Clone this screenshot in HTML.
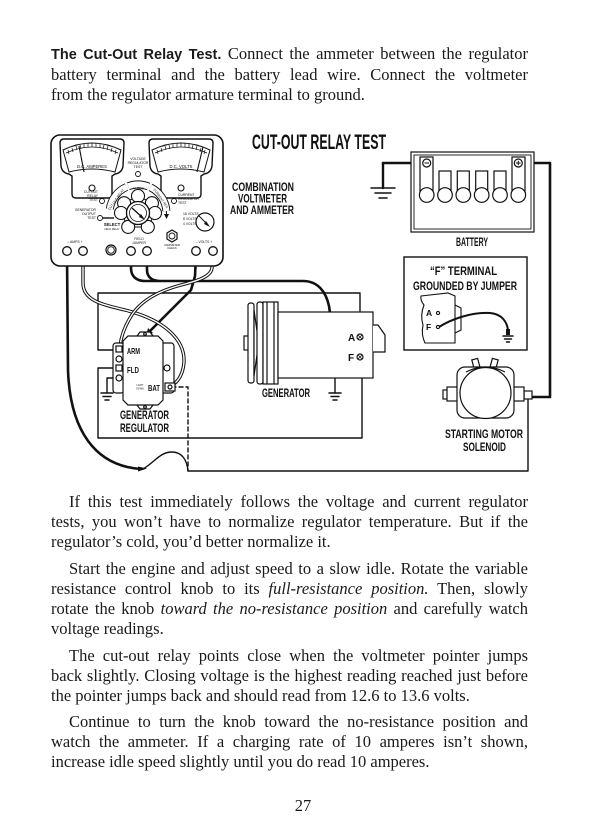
<!DOCTYPE html>
<html><head><meta charset="utf-8">
<style>
html,body{margin:0;padding:0;background:#fff;}
body{width:600px;height:840px;position:relative;overflow:hidden;}
.l{position:absolute;left:51px;width:477px;font-family:"Liberation Serif",serif;font-size:16.5px;line-height:20px;color:#1a1a1a;white-space:nowrap;}
.j{text-align:justify;text-align-last:justify;}
.i{left:69px;width:459px;}
.l b{font-family:"Liberation Sans",sans-serif;font-size:14.5px;}
svg{position:absolute;left:0;top:0;}
</style></head><body>
<svg width="600" height="840" viewBox="0 0 600 840" xmlns="http://www.w3.org/2000/svg">
<g fill="none" stroke="#111" stroke-width="1.4" stroke-linecap="round" stroke-linejoin="round">
  <!-- thin wires -->
  <path d="M117,350 L98,350 L98,293 L360,293 L360,337"/>
  <path d="M117,368 L98,368 L98,438 L362,438 L362,357"/>
  <path d="M143,469 C155,462 160,452 172,452 C182,452 187,460 188,471 L528,471 L528,397"/>
  <path d="M172,387 L188,387 L188,471" stroke-dasharray="4,3"/>
  <path d="M119,378 L107,378 L107,393"/>
  <path d="M335,355 L335,393"/>
  <path d="M383,163 L383,188" stroke-width="2.4"/>
  <!-- grounds -->
  <g stroke-width="1.5">
    <path d="M371,188 L395,188 M375,193 L391,193 M379,198 L387,198"/>
    <path d="M101,393 L113,393 M103,396.5 L111,396.5 M105,400 L109,400"/>
    <path d="M329,393 L341,393 M331,396.5 L339,396.5 M333,400 L337,400"/>
    <path d="M503,336 L513,336 M504.5,339 L511.5,339 M506.5,342 L509.5,342"/>
  </g>
  <!-- thick black wires -->
  <path d="M67,255 L68,370 C70,430 95,466 141,469" stroke-width="2.6"/>
  <path d="M196,255 L195,276 L191,290 L150,331" stroke-width="2.6"/>
  <path d="M131,255 L131,268 C131,276 136,281 145,281 M147,255 L147,270 C147,277 152,281 160,281 M145,281 L303,281 C318,281 326,292 329,306 L332,326 L335,352" stroke-width="2.6"/>
  <path d="M332,326 C340,336 350,345 358,356" stroke-width="1.6"/>
  <path d="M427,163 L383,163" stroke-width="2.6"/>
  <path d="M518,163 L550,163 L550,397 L532,397" stroke-width="2.6"/>
  <!-- double wires -->
  <path d="M83,255 L83,283 C83,300 100,304 125,310 C165,320 185,340 184,362 C183,375 178,382 171,386" stroke-width="3.4"/>
  <path d="M83,255 L83,283 C83,300 100,304 125,310 C165,320 185,340 184,362 C183,375 178,382 171,386" stroke="#fff" stroke-width="1.4"/>
  <path d="M213,255 L212,268 C211,276 200,280 185,284 C160,290 140,300 130,318 C124,328 121,338 120,346" stroke-width="3.4"/>
  <path d="M213,255 L212,268 C211,276 200,280 185,284 C160,290 140,300 130,318 C124,328 121,338 120,346" stroke="#fff" stroke-width="1.4"/>
</g>
<!-- wire tips -->
<g fill="#111">
  <path d="M138,466.5 L147,468.5 L138,471.5 Z"/>
  <path d="M146,336 L148,328 L153,333 Z"/>
  <path d="M333,351 L337,351 L336,357 L334,357 Z"/>
  <rect x="506" y="329" width="4" height="6"/>
</g>

<!-- METER PANEL -->
<g fill="#fff" stroke="#111" stroke-width="1.4">
  <rect x="51" y="135" width="172" height="131" rx="9" stroke-width="1.6"/>
  <path d="M64,139 L120,139 Q124,139 124,143 L123,166 Q122,173 115,174 L112,176 L112,194 Q112,198 108,198 L76,198 Q72,198 72,194 L72,176 L69,174 Q62,173 61,166 L60,143 Q60,139 64,139 Z"/>
  <path d="M63,150 Q92,136 121,150 L115,172 Q92,166 69,172 Z" stroke-width="1"/>
  <path d="M153,139 L209,139 Q213,139 213,143 L212,166 Q211,173 204,174 L201,176 L201,194 Q201,198 197,198 L165,198 Q161,198 161,194 L161,176 L158,174 Q151,173 150,166 L149,143 Q149,139 153,139 Z"/>
  <path d="M152,150 Q181,136 210,150 L204,172 Q181,166 158,172 Z" stroke-width="1"/>
</g>
<g fill="none" stroke="#111" stroke-width="0.7">
  <path d="M66,153 Q92,141 118,153"/>
  <path d="M155,153 Q181,141 207,153"/>
  <path d="M68,150 L69,154 M72,148 L73,152 M76,146 L77,150 M80,145 L81,149 M84,144 L84,148 M88,143 L88,147 M92,143 L92,147 M96,143 L96,147 M100,144 L100,148 M104,145 L103,149 M108,146 L107,150 M112,148 L111,152 M116,150 L115,154"/>
  <path d="M157,150 L158,154 M161,148 L162,152 M165,146 L166,150 M169,145 L170,149 M173,144 L173,148 M177,143 L177,147 M181,143 L181,147 M185,143 L185,147 M189,144 L189,148 M193,145 L192,149 M197,146 L196,150 M201,148 L200,152 M205,150 L204,154"/>
  <path d="M84,172 L79,146" stroke-width="1.1"/>
  <path d="M197,172 L203,147" stroke-width="1.1"/>
</g>
<g fill="#fff" stroke="#111" stroke-width="1.1">
  <circle cx="92" cy="188" r="3"/>
  <circle cx="181" cy="188" r="3"/>
</g>
<!-- selector -->
<g fill="none" stroke="#111">
  <path d="M109.8,209 A28.5,28.5 0 0 1 126.4,187" stroke-width="8"/>
  <path d="M128.3,186.2 A28.5,28.5 0 0 1 148.7,186.6" stroke-width="8"/>
  <path d="M150.5,187.4 A28.5,28.5 0 0 1 166.4,211" stroke-width="8"/>
  <path d="M109.8,209 A28.5,28.5 0 0 1 126.4,187" stroke="#fff" stroke-width="6.2"/>
  <path d="M128.3,186.2 A28.5,28.5 0 0 1 148.7,186.6" stroke="#fff" stroke-width="6.2"/>
  <path d="M150.5,187.4 A28.5,28.5 0 0 1 166.4,211" stroke="#fff" stroke-width="6.2"/>
  <path d="M166.4,211 L166.5,216" stroke-width="1"/>
</g>
<path d="M164,214 L169,214 L166.5,219 Z" fill="#111"/>
<g font-family="Liberation Sans, sans-serif" font-size="3.2" fill="#111" text-anchor="middle">
  <text x="117" y="200" transform="rotate(-55 117 200)">CUT-OUT RELAY</text>
  <text x="138.5" y="189.5">V. REG</text>
  <text x="160" y="199" transform="rotate(55 160 199)">CURRENT REG</text>
</g>
<g fill="#fff" stroke="#111" stroke-width="1.1">
  <path d="M138,196 L152,203 L155,213 L148,227 L128,227 L121,213 L124,203 Z" fill="none"/>
  <circle cx="138" cy="196" r="6.5"/>
  <circle cx="124.1" cy="203.2" r="6.5"/>
  <circle cx="151.9" cy="203.2" r="6.5"/>
  <circle cx="121" cy="213" r="6.5"/>
  <circle cx="155" cy="213" r="6.5"/>
  <circle cx="128.2" cy="226.9" r="6.5"/>
  <circle cx="147.8" cy="226.9" r="6.5"/>
  <circle cx="138" cy="213" r="11.5" stroke-width="1.3"/>
  <circle cx="138" cy="213" r="8.5" stroke-width="0.8"/>
</g>
<path d="M132,208 L143,218" stroke="#111" stroke-width="1.3"/>
<path d="M141,214 L145,220 L139,217 Z" fill="#111"/>
<!-- small labels + circles -->
<g fill="#fff" stroke="#111" stroke-width="0.9">
  <circle cx="138" cy="174" r="2.5"/>
  <circle cx="102" cy="201" r="2.5"/>
  <circle cx="100" cy="218" r="2.5"/>
  <circle cx="174" cy="201" r="2.5"/>
  <circle cx="205" cy="222" r="9" stroke-width="1.2"/>
  <path d="M172,230 L177,233 L177,239 L172,242 L167,239 L167,233 Z" stroke-width="1.2"/>
  <circle cx="172" cy="236" r="3"/>
  <circle cx="111" cy="250" r="5" stroke-width="1.2"/>
  <circle cx="111" cy="250" r="3.3"/>
</g>
<path d="M102.5,218 L114,218" stroke="#111" stroke-width="1.4"/>
<path d="M199,216 L208,225" stroke="#111" stroke-width="1"/>
<path d="M206,221 L210,227 L204,224 Z" fill="#111"/>
<g font-family="Liberation Sans, sans-serif" font-size="3.4" fill="#111">
  <g text-anchor="middle">
    <text x="138" y="160">VOLTAGE</text><text x="138" y="164">REGULATOR</text><text x="138" y="168">TEST</text>
    <text x="92" y="168" font-size="4.2">D.C. AMPERES</text>
    <text x="181" y="168" font-size="4.2">D.C. VOLTS</text>
    <text x="75" y="243">– AMPS +</text>
    <text x="139" y="240">FIELD</text><text x="139" y="244">JUMPER</text>
    <text x="172" y="246" font-size="2.8">VARIMETER</text><text x="172" y="249" font-size="2.8">CHECK</text>
    <text x="204" y="243">– VOLTS +</text>
    <text x="112" y="226" font-size="4.2" font-weight="bold">SELECT</text>
    <text x="112" y="230" font-size="2.4">FIELD RELAY</text>
  </g>
  <g text-anchor="end">
    <text x="98" y="193">CUTOUT</text><text x="98" y="197">RELAY</text><text x="98" y="201">TEST</text>
    <text x="96" y="211">GENERATOR</text><text x="96" y="215">OUTPUT</text><text x="96" y="219">TEST</text>
  </g>
  <text x="178" y="196">CURRENT</text><text x="178" y="200">REGULATOR</text><text x="178" y="204">TEST</text>
  <text x="183" y="215">16 VOLTS</text><text x="183" y="220">8 VOLTS</text><text x="183" y="225">4 VOLTS</text>
</g>
<g fill="#fff" stroke="#111" stroke-width="1.3">
  <circle cx="67" cy="251" r="4.3"/>
  <circle cx="83" cy="251" r="4.3"/>
  <circle cx="131" cy="251" r="4.3"/>
  <circle cx="147" cy="251" r="4.3"/>
  <circle cx="196" cy="251" r="4.3"/>
  <circle cx="213" cy="251" r="4.3"/>
</g>

<!-- BATTERY -->
<g fill="#fff" stroke="#111" stroke-width="1.2">
  <rect x="411" y="152" width="123" height="80"/>
  <rect x="414" y="155" width="117" height="74" stroke-width="0.9"/>
  <rect x="420" y="157" width="13" height="38"/>
  <rect x="439" y="171" width="12" height="24"/>
  <rect x="457.3" y="171" width="12" height="24"/>
  <rect x="475.7" y="171" width="12" height="24"/>
  <rect x="494" y="171" width="12" height="24"/>
  <rect x="512" y="157" width="13" height="38"/>
  <circle cx="426.7" cy="195" r="7.3"/>
  <circle cx="445" cy="195" r="7.3"/>
  <circle cx="463.3" cy="195" r="7.3"/>
  <circle cx="481.7" cy="195" r="7.3"/>
  <circle cx="500" cy="195" r="7.3"/>
  <circle cx="518.3" cy="195" r="7.3"/>
  <circle cx="426.7" cy="163" r="4"/>
  <circle cx="518.3" cy="163" r="4"/>
</g>
<path d="M424.5,163 L429,163 M516,163 L520.6,163 M518.3,160.8 L518.3,165.2" stroke="#111" stroke-width="1"/>

<!-- INSET BOX -->
<rect x="404" y="257" width="123" height="93" fill="none" stroke="#111" stroke-width="1.4"/>
<g fill="#fff" stroke="#111" stroke-width="1.1">
  <path d="M455,305 L461,308 L461,330 L455,333"/>
  <path d="M421,296 L448,293 L455,296 L455,343 L425,343 Q421,335 423,325 Q420,315 424,305 Q420,300 421,296 Z"/>
  <circle cx="438" cy="313" r="1.6"/>
  <circle cx="438" cy="327" r="1.6"/>
</g>
<path d="M439,327 C450,320 470,312 490,313 C502,314 507,322 508,330" fill="none" stroke="#111" stroke-width="2"/>

<!-- GENERATOR -->
<g fill="#fff" stroke="#111" stroke-width="1.2">
  <rect x="244" y="336" width="5" height="14"/>
  <rect x="248" y="303" width="6" height="80" rx="2.5"/>
  <path d="M254,310 L258,338 L258,348 L254,376 Z"/>
  <rect x="257" y="302" width="6" height="82" rx="2.5"/>
  <rect x="263" y="302" width="15" height="82"/>
  <path d="M267,302 L267,384 M274,302 L274,384" fill="none"/>
  <rect x="278" y="312" width="95" height="66"/>
  <path d="M373,325 L378,325 L385,335 L385,352 L373,352"/>
  <circle cx="360" cy="337" r="3"/>
  <circle cx="360" cy="357" r="3"/>
</g>
<path d="M358,335 L362,339 M362,335 L358,339 M358,355 L362,359 M362,355 L358,359" stroke="#111" stroke-width="0.8"/>

<!-- REGULATOR -->
<g fill="#fff" stroke="#111" stroke-width="1.2">
  <rect x="113" y="343" width="11" height="50" rx="3"/>
  <rect x="161" y="343" width="13" height="50" rx="3"/>
  <path d="M137,336 L140,332 L150,332 L153,336"/>
  <path d="M137,405 L140,409 L150,409 L153,405"/>
  <path d="M128,336 L158,336 L163,341 L163,400 L158,405 L128,405 L123,400 L123,341 Z"/>
  <circle cx="145" cy="334" r="1.3"/>
  <circle cx="145" cy="407" r="1.3"/>
  <rect x="116" y="346" width="6" height="6"/>
  <circle cx="119" cy="359" r="3"/>
  <rect x="116" y="365" width="6" height="6"/>
  <circle cx="119" cy="378" r="3"/>
  <circle cx="167" cy="368" r="3"/>
  <rect x="165" y="383" width="10" height="8"/>
  <circle cx="170" cy="387" r="2"/>
</g>

<!-- SOLENOID -->
<g fill="#fff" stroke="#111" stroke-width="1.2">
  <rect x="443" y="390" width="5" height="9"/>
  <rect x="447" y="387" width="11" height="14"/>
  <rect x="524" y="391" width="8" height="8"/>
  <rect x="513" y="387" width="11" height="14"/>
  <rect x="473" y="359" width="6" height="9" transform="rotate(-15 476 364)"/>
  <rect x="491" y="359" width="6" height="9" transform="rotate(15 494 364)"/>
  <rect x="457" y="367" width="57" height="51" rx="8"/>
  <path d="M466,372 Q485.5,362 505,372" fill="none"/>
  <circle cx="485.5" cy="393" r="25.5"/>
</g>

<!-- LABELS -->
<g font-family="Liberation Sans, sans-serif" font-weight="bold" fill="#111" lengthAdjust="spacingAndGlyphs">
  <text x="252" y="149" font-size="21" textLength="134" lengthAdjust="spacingAndGlyphs">CUT-OUT RELAY TEST</text>
  <text x="232" y="191" font-size="12" textLength="62" lengthAdjust="spacingAndGlyphs">COMBINATION</text>
  <text x="238" y="202.5" font-size="12" textLength="49" lengthAdjust="spacingAndGlyphs">VOLTMETER</text>
  <text x="230" y="214" font-size="12" textLength="64" lengthAdjust="spacingAndGlyphs">AND AMMETER</text>
  <text x="456" y="246" font-size="12" textLength="32" lengthAdjust="spacingAndGlyphs">BATTERY</text>
  <text x="430" y="275" font-size="12" textLength="67" lengthAdjust="spacingAndGlyphs">“F” TERMINAL</text>
  <text x="413" y="290" font-size="12" textLength="104" lengthAdjust="spacingAndGlyphs">GROUNDED BY JUMPER</text>
  <text x="426" y="316" font-size="8.5">A</text>
  <text x="426" y="330" font-size="8.5">F</text>
  <text x="348" y="341" font-size="10">A</text>
  <text x="348" y="361" font-size="10">F</text>
  <text x="262" y="397" font-size="12" textLength="48" lengthAdjust="spacingAndGlyphs">GENERATOR</text>
  <text x="127" y="354" font-size="8.5" textLength="13" lengthAdjust="spacingAndGlyphs">ARM</text>
  <text x="127" y="373" font-size="8.5" textLength="12" lengthAdjust="spacingAndGlyphs">FLD</text>
  <text x="148" y="391" font-size="8.5" textLength="12" lengthAdjust="spacingAndGlyphs">BAT</text>
  <text x="120" y="419" font-size="12" textLength="49" lengthAdjust="spacingAndGlyphs">GENERATOR</text>
  <text x="120" y="432" font-size="12" textLength="49" lengthAdjust="spacingAndGlyphs">REGULATOR</text>
  <text x="445" y="438" font-size="12" textLength="78" lengthAdjust="spacingAndGlyphs">STARTING MOTOR</text>
  <text x="463" y="451" font-size="12" textLength="43" lengthAdjust="spacingAndGlyphs">SOLENOID</text>
</g>
<g font-family="Liberation Sans, sans-serif" font-size="2.4" fill="#111" text-anchor="middle">
  <text x="140" y="386">LIGHT</text><text x="140" y="389.5">DOWN</text>
</g>
</svg>

<div class="l j" style="top:44.4px"><b>The Cut-Out Relay Test.</b> Connect the ammeter between the regulator</div>
<div class="l j" style="top:65.4px">battery terminal and the battery lead wire. Connect the voltmeter</div>
<div class="l" style="top:85.4px">from the regulator armature terminal to ground.</div>

<div class="l j i" style="top:492.4px">If this test immediately follows the voltage and current regulator</div>
<div class="l j" style="top:512.4px">tests, you won’t have to normalize regulator temperature. But if the</div>
<div class="l" style="top:532.4px">regulator’s cold, you’d better normalize it.</div>

<div class="l j i" style="top:559.4px">Start the engine and adjust speed to a slow idle. Rotate the variable</div>
<div class="l j" style="top:579.4px">resistance control knob to its <i>full-resistance position.</i> Then, slowly</div>
<div class="l j" style="top:599.4px">rotate the knob <i>toward the no-resistance position</i> and carefully watch</div>
<div class="l" style="top:619.4px">voltage readings.</div>

<div class="l j i" style="top:646.4px">The cut-out relay points close when the voltmeter pointer jumps</div>
<div class="l j" style="top:666.4px">back slightly. Closing voltage is the highest reading reached just before</div>
<div class="l" style="top:686.4px">the pointer jumps back and should read from 12.6 to 13.6 volts.</div>

<div class="l j i" style="top:712.4px">Continue to turn the knob toward the no-resistance position and</div>
<div class="l j" style="top:732.4px">watch the ammeter. If a charging rate of 10 amperes isn’t shown,</div>
<div class="l" style="top:752.4px">increase idle speed slightly until you do read 10 amperes.</div>

<div class="l" style="top:796.4px;left:0;width:606px;text-align:center;">27</div>
</body></html>
